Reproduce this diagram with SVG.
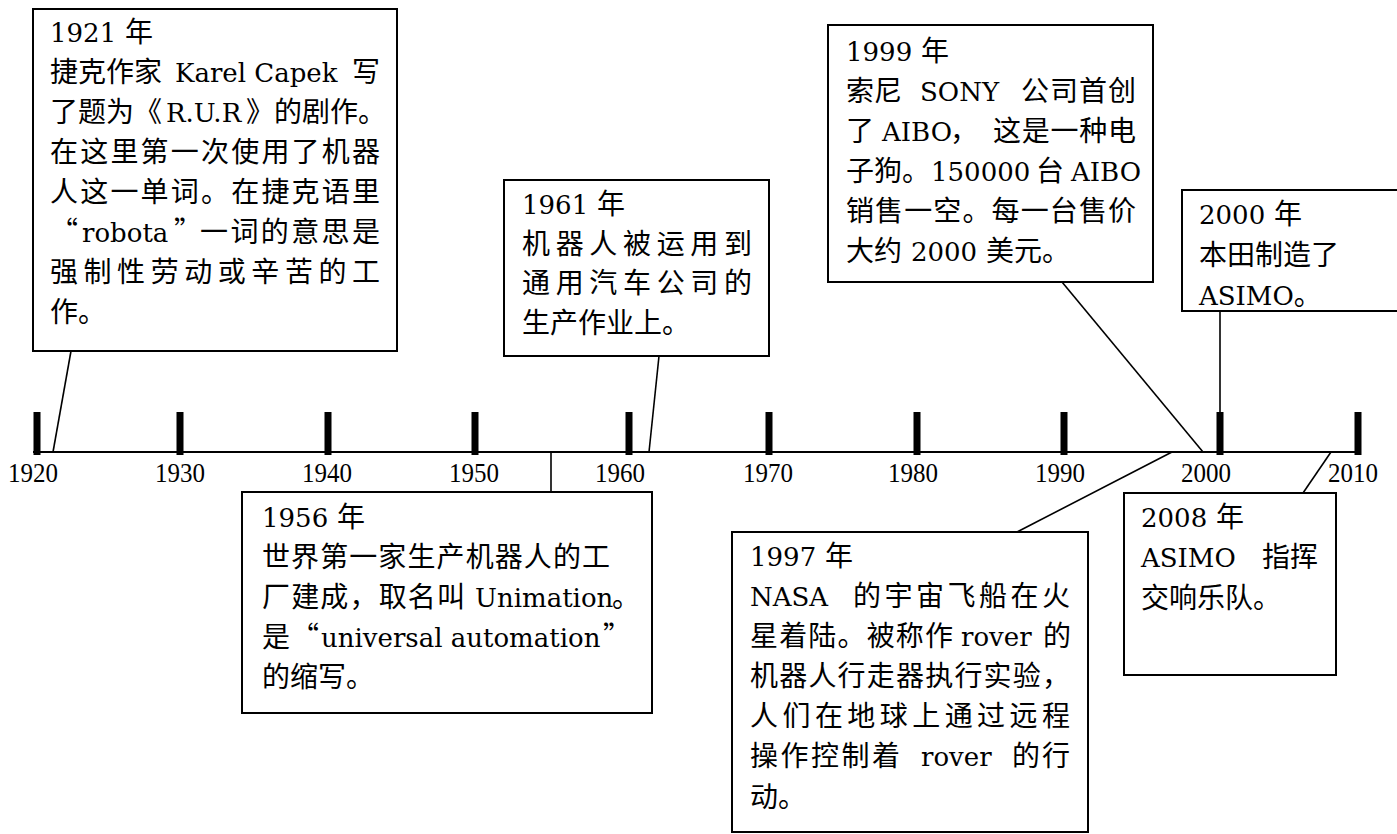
<svg xmlns="http://www.w3.org/2000/svg" width="1397" height="834" viewBox="0 0 1397 834">
<style>
.box{fill:#fff;stroke:#000;stroke-width:2}
.t{font-family:"DejaVu Serif","Noto Sans CJK SC",serif;font-size:28px;fill:#000}
.l{font-family:"DejaVu Serif",serif;font-size:26px}
.c{font-family:"Noto Sans CJK SC",sans-serif;font-size:28px}
.yr{font-family:"Liberation Serif",serif;font-size:28px;text-anchor:middle;fill:#000}
.tick{fill:#000}
.conn line{stroke:#000;stroke-width:1.6}
</style>
<rect width="1397" height="834" fill="#fff"/>
<g id="axis">
<line x1="33" y1="452" x2="1358" y2="452" stroke="#000" stroke-width="2"/>
<rect class="tick" x="33.5" y="412" width="7" height="43"/>
<rect class="tick" x="176.5" y="412" width="7" height="43"/>
<rect class="tick" x="324.5" y="412" width="7" height="43"/>
<rect class="tick" x="471.5" y="412" width="7" height="43"/>
<rect class="tick" x="625.5" y="412" width="7" height="43"/>
<rect class="tick" x="765.5" y="412" width="7" height="43"/>
<rect class="tick" x="913.5" y="412" width="7" height="43"/>
<rect class="tick" x="1060.5" y="412" width="7" height="43"/>
<rect class="tick" x="1216.5" y="412" width="7" height="43"/>
<rect class="tick" x="1354.5" y="412" width="7" height="43"/>
<text class="yr" x="33" y="482" textLength="50" lengthAdjust="spacingAndGlyphs">1920</text>
<text class="yr" x="180" y="482" textLength="50" lengthAdjust="spacingAndGlyphs">1930</text>
<text class="yr" x="327" y="482" textLength="50" lengthAdjust="spacingAndGlyphs">1940</text>
<text class="yr" x="474" y="482" textLength="50" lengthAdjust="spacingAndGlyphs">1950</text>
<text class="yr" x="620" y="482" textLength="50" lengthAdjust="spacingAndGlyphs">1960</text>
<text class="yr" x="768" y="482" textLength="50" lengthAdjust="spacingAndGlyphs">1970</text>
<text class="yr" x="913" y="482" textLength="50" lengthAdjust="spacingAndGlyphs">1980</text>
<text class="yr" x="1060" y="482" textLength="50" lengthAdjust="spacingAndGlyphs">1990</text>
<text class="yr" x="1206" y="482" textLength="50" lengthAdjust="spacingAndGlyphs">2000</text>
<text class="yr" x="1353" y="482" textLength="50" lengthAdjust="spacingAndGlyphs">2010</text>
</g>
<g id="connectors" class="conn">
<line x1="71" y1="351" x2="53" y2="452"/>
<line x1="659" y1="356" x2="649" y2="452"/>
<line x1="551" y1="452" x2="551" y2="492"/>
<line x1="1062" y1="282" x2="1203" y2="452"/>
<line x1="1220" y1="311" x2="1220" y2="412"/>
<line x1="1172" y1="452" x2="1017" y2="532"/>
<line x1="1331" y1="452" x2="1303" y2="493"/>
</g>
<g id="node-1921">
<rect class="box" x="33" y="9" width="364" height="342"/>
<text class="t" x="50" y="42"><tspan class="l">1921</tspan> 年</text>
<text class="t" x="50" y="82">捷克作家</text>
<text class="t l" x="175" y="82">Karel Capek</text>
<text class="t" x="352" y="82">写</text>
<text class="t" x="50" y="122">了题为《</text>
<text class="t l" x="166" y="122">R.U.R</text>
<text class="t" x="246" y="122">》的剧作。</text>
<text class="t" x="50" y="162" textLength="330" lengthAdjust="spacing">在这里第一次使用了机器</text>
<text class="t" x="50" y="202" textLength="330" lengthAdjust="spacing">人这一单词。在捷克语里</text>
<text class="t c" x="50" y="242">“</text>
<text class="t l" x="82" y="242">robota</text>
<text class="t c" x="174" y="242">”</text>
<text class="t" x="200" y="242" textLength="180" lengthAdjust="spacing">一词的意思是</text>
<text class="t" x="50" y="282" textLength="330" lengthAdjust="spacing">强制性劳动或辛苦的工</text>
<text class="t" x="50" y="322">作。</text>
</g>
<g id="node-1961">
<rect class="box" x="504" y="180" width="265" height="176"/>
<text class="t" x="522" y="214"><tspan class="l">1961</tspan> 年</text>
<text class="t" x="522" y="254" textLength="230" lengthAdjust="spacing">机器人被运用到</text>
<text class="t" x="522" y="293" textLength="230" lengthAdjust="spacing">通用汽车公司的</text>
<text class="t" x="522" y="333">生产作业上。</text>
</g>
<g id="node-1956">
<rect class="box" x="242" y="492" width="410" height="221"/>
<text class="t" x="262" y="527"><tspan class="l">1956</tspan> 年</text>
<text class="t" x="262" y="567" textLength="348" lengthAdjust="spacing">世界第一家生产机器人的工</text>
<text class="t" x="262" y="607" textLength="203" lengthAdjust="spacing">厂建成，取名叫</text>
<text class="t l" x="475" y="607">Unimation</text>
<text class="t" x="612" y="607">。</text>
<text class="t" x="262" y="647">是</text>
<text class="t c" x="291" y="647">“</text>
<text class="t l" x="321" y="647">universal automation</text>
<text class="t c" x="603" y="647">”</text>
<text class="t" x="262" y="687">的缩写。</text>
</g>
<g id="node-1999">
<rect class="box" x="828" y="25" width="325" height="257"/>
<text class="t" x="846" y="61"><tspan class="l">1999</tspan> 年</text>
<text class="t" x="846" y="101">索尼</text>
<text class="t l" x="920" y="101">SONY</text>
<text class="t" x="1021" y="101" textLength="115" lengthAdjust="spacing">公司首创</text>
<text class="t" x="846" y="141">了</text>
<text class="t l" x="882" y="141">AIBO</text>
<text class="t" x="950" y="141">，</text>
<text class="t" x="993" y="141" textLength="143" lengthAdjust="spacing">这是一种电</text>
<text class="t" x="846" y="181">子狗。</text>
<text class="t l" x="931" y="181">150000</text>
<text class="t" x="1036" y="181">台</text>
<text class="t l" x="1071" y="181">AIBO</text>
<text class="t" x="846" y="221" textLength="290" lengthAdjust="spacing">销售一空。每一台售价</text>
<text class="t" x="846" y="261">大约 <tspan class="l">2000</tspan> 美元。</text>
</g>
<g id="node-2000">
<rect class="box" x="1182" y="190" width="230" height="121"/>
<text class="t" x="1199" y="224"><tspan class="l">2000</tspan> 年</text>
<text class="t" x="1199" y="265">本田制造了</text>
<text class="t" x="1199" y="305"><tspan class="l">ASIMO</tspan>。</text>
</g>
<g id="node-1997">
<rect class="box" x="732" y="532" width="356" height="300"/>
<text class="t" x="750" y="566"><tspan class="l">1997</tspan> 年</text>
<text class="t l" x="750" y="606">NASA</text>
<text class="t" x="853" y="606" textLength="217" lengthAdjust="spacing">的宇宙飞船在火</text>
<text class="t" x="750" y="646" textLength="203" lengthAdjust="spacing">星着陆。被称作</text>
<text class="t l" x="961" y="646">rover</text>
<text class="t" x="1043" y="646">的</text>
<text class="t" x="750" y="686" textLength="320" lengthAdjust="spacing">机器人行走器执行实验，</text>
<text class="t" x="750" y="726" textLength="320" lengthAdjust="spacing">人们在地球上通过远程</text>
<text class="t" x="750" y="766" textLength="150" lengthAdjust="spacing">操作控制着</text>
<text class="t l" x="921" y="766">rover</text>
<text class="t" x="1012" y="766" textLength="58" lengthAdjust="spacing">的行</text>
<text class="t" x="750" y="807">动。</text>
</g>
<g id="node-2008">
<rect class="box" x="1124" y="493" width="212" height="182"/>
<text class="t" x="1141" y="527"><tspan class="l">2008</tspan> 年</text>
<text class="t l" x="1141" y="567">ASIMO</text>
<text class="t" x="1262" y="567">指挥</text>
<text class="t" x="1141" y="608">交响乐队。</text>
</g>
</svg>
